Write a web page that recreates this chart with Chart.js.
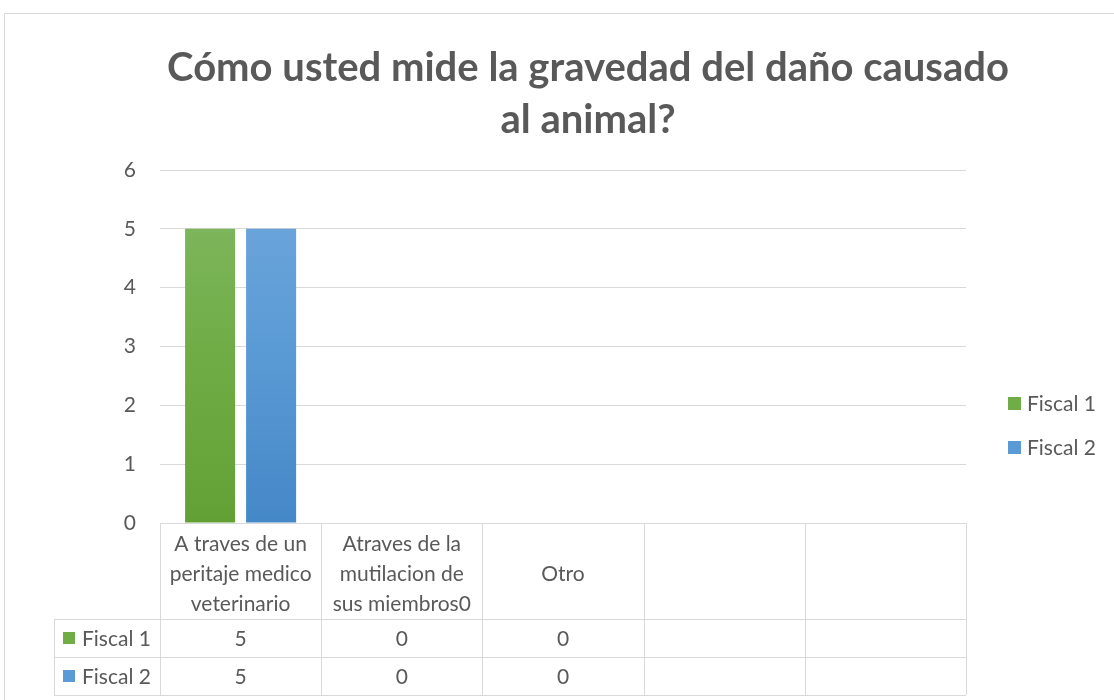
<html>
<head>
<script src="https://cdn.jsdelivr.net/npm/chart.js"></script>
<style>
  body { margin: 0; background: #fff; }
  #wrap { width: 1114px; height: 700px; }
</style>
<script>
// chart data
var categories = [
    ["A traves de un", "peritaje medico", "veterinario"],
    ["Atraves de la", "mutilacion de", "sus miembros0"],
    ["Otro"],
    [""],
    [""]
];
var fiscal1 = [5, 0, 0, null, null];
var fiscal2 = [5, 0, 0, null, null];
var seriesNames = ["Fiscal 1", "Fiscal 2"];
var yTicks = [0, 1, 2, 3, 4, 5, 6];

var fontName = "Lato, 'Open Sans', sans-serif";
var textColor = "#595959";
var lineColor = "#d9d9d9";
var swatch = ["#70ad47", "#5b9bd5"];

function makeGradient(ctx, area, top, mid, bottom)
{
    var g = ctx.createLinearGradient(0, area.top, 0, area.bottom);
    g.addColorStop(0, top);
    g.addColorStop(0.5, mid);
    g.addColorStop(1, bottom);
    return g;
}

// border, data table and legend drawn around the plot
var extras = {
    id: 'extras',
    beforeDraw: function(chart) {
        var c = chart.ctx;
        c.save();
        c.strokeStyle = lineColor;
        c.lineWidth = 1;
        c.strokeRect(4.5, 13.5, 1200, 800);
        c.restore();
    },
    afterDraw: function(chart) {
        var c = chart.ctx;
        var x = chart.scales.x;
        var area = chart.chartArea;
        var n = categories.length;
        var half = (x.getPixelForValue(1) - x.getPixelForValue(0)) / 2;
        var edges = [];
        for (var i = 0; i < n; i++) edges.push(x.getPixelForValue(i) - half);
        edges.push(x.getPixelForValue(n - 1) + half);

        var top = area.bottom;
        var row1 = top + 96, row2 = row1 + 38, row3 = row2 + 38;
        var leftCol = 54;

        c.save();
        c.strokeStyle = lineColor;
        c.lineWidth = 1;
        c.beginPath();
        // horizontal lines
        c.moveTo(edges[0], top + 0.5); c.lineTo(edges[n], top + 0.5);
        [row1, row2, row3].forEach(function(y) {
            c.moveTo(leftCol, y + 0.5); c.lineTo(edges[n], y + 0.5);
        });
        // vertical lines
        edges.forEach(function(ex) {
            c.moveTo(Math.round(ex) + 0.5, top); c.lineTo(Math.round(ex) + 0.5, row3);
        });
        c.moveTo(leftCol + 0.5, row1); c.lineTo(leftCol + 0.5, row3);
        c.stroke();

        c.fillStyle = textColor;
        c.font = "21px " + fontName;
        c.textAlign = "center";
        c.textBaseline = "middle";
        for (var i = 0; i < n; i++) {
            var cx = (edges[i] + edges[i + 1]) / 2;
            var lines = categories[i];
            var mid = (top + row1) / 2 + 3;
            for (var k = 0; k < lines.length; k++) {
                c.fillText(lines[k], cx, mid + (k - (lines.length - 1) / 2) * 30);
            }
            var v1 = fiscal1[i], v2 = fiscal2[i];
            if (v1 !== null) c.fillText(String(v1), cx, (row1 + row2) / 2 + 1);
            if (v2 !== null) c.fillText(String(v2), cx, (row2 + row3) / 2 + 1);
        }

        // row labels
        c.textAlign = "left";
        [[row1, row2], [row2, row3]].forEach(function(r, j) {
            var my = (r[0] + r[1]) / 2;
            c.fillStyle = swatch[j];
            c.fillRect(63, my - 6, 12, 12);
            c.fillStyle = textColor;
            c.fillText(seriesNames[j], 82, my + 1);
        });

        // legend
        [403, 447].forEach(function(ly, j) {
            c.fillStyle = swatch[j];
            c.fillRect(1008, ly - 6, 13, 13);
            c.fillStyle = textColor;
            c.fillText(seriesNames[j], 1027, ly + 1);
        });
        c.restore();
    }
};

function doLoading()
{
    var ctx = document.getElementById('chartCanvas').getContext('2d');
    new Chart(ctx, {
        type: 'bar',
        data: {
            labels: categories,
            datasets: [
                {
                    label: seriesNames[0],
                    data: fiscal1,
                    backgroundColor: function(context) {
                        var a = context.chart.chartArea;
                        if (!a) return swatch[0];
                        return makeGradient(context.chart.ctx, a, "#82b964", "#70ad47", "#63a034");
                    }
                },
                {
                    label: seriesNames[1],
                    data: fiscal2,
                    backgroundColor: function(context) {
                        var a = context.chart.chartArea;
                        if (!a) return swatch[1];
                        return makeGradient(context.chart.ctx, a, "#70a7dd", "#5b9bd5", "#4588c8");
                    }
                }
            ]
        },
        options: {
            responsive: false,
            animation: false,
            categoryPercentage: 0.757,
            barPercentage: 0.82,
            layout: { padding: { left: 62, right: 0, top: 0, bottom: 177 } },
            plugins: {
                legend: { display: false },
                tooltip: { enabled: false },
                title: {
                    display: true,
                    text: ["Cómo usted mide la gravedad del daño causado", "al animal?"],
                    color: textColor,
                    font: { family: fontName, size: 40, weight: 'bold', lineHeight: 1.3 },
                    padding: { top: 42, bottom: 24 }
                }
            },
            scales: {
                x: { display: false },
                y: {
                    min: 0,
                    max: 6,
                    afterFit: function(s) { s.width = 98; },
                    afterBuildTicks: function(s) { s.ticks = yTicks.map(function(v) { return { value: v }; }); },
                    border: { display: false },
                    grid: { color: lineColor, drawTicks: false },
                    ticks: { color: textColor, padding: 24, font: { family: fontName, size: 21 } }
                },
                y2: {
                    position: 'right',
                    afterFit: function(s) { s.width = 148; },
                    border: { display: false },
                    grid: { display: false },
                    ticks: { display: false }
                }
            }
        },
        plugins: [extras]
    });
}
</script>
</head>
<body onload="doLoading()">
<div id="wrap"><canvas id="chartCanvas" width="1114" height="700"></canvas></div>
</body>
</html>
